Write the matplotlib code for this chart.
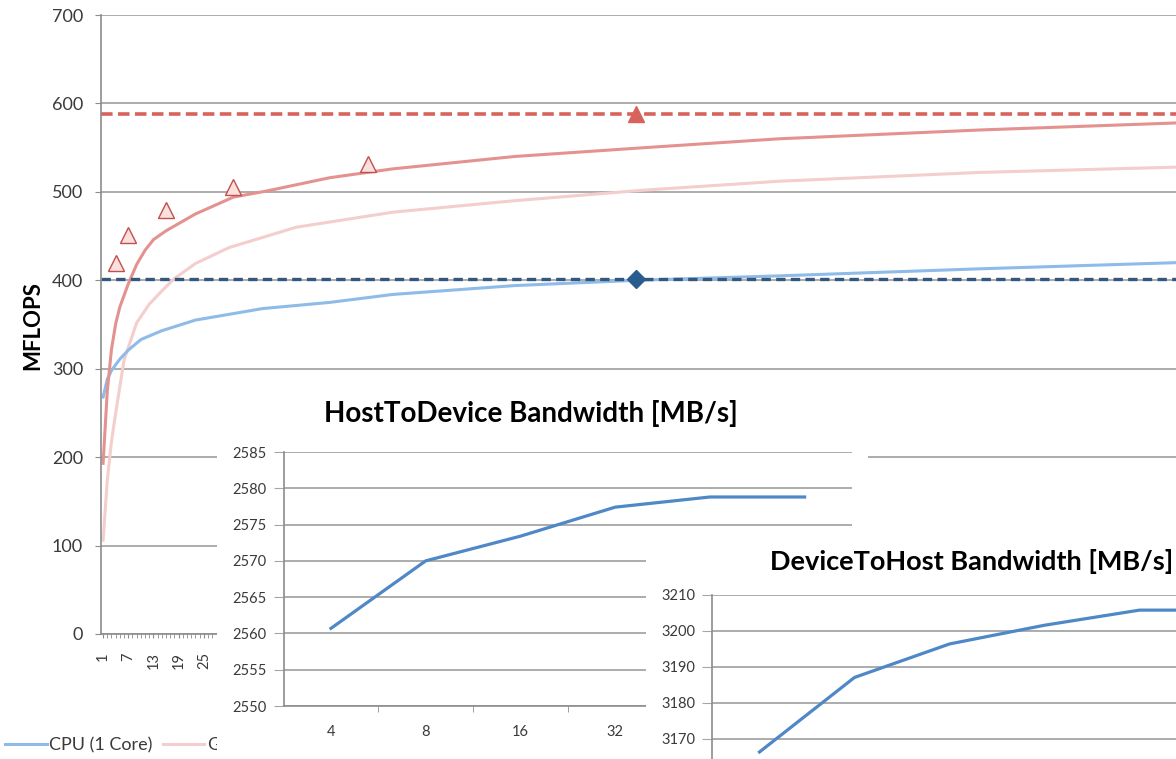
import matplotlib.pyplot as plt
from matplotlib.ticker import FixedLocator

plt.rcParams['font.family'] = ['Lato', 'DejaVu Sans']

# --- Data
# main chart: MFLOPS per category (1..257), curves given at sampled categories
cpu_x = [1, 2, 3, 5, 7, 10, 15, 23, 39, 55, 70, 99, 128, 162, 210, 257]
cpu_y = [268, 288, 298, 311, 321, 333, 343, 355, 368, 375, 384, 394, 400, 405, 413, 420]

gpu_x = [1, 2, 3, 4, 5, 7, 9, 11, 13, 16, 23, 32, 40, 55, 70, 99, 130, 162, 210, 257]
gpu_y = [193, 275, 322, 351, 370, 396, 418, 434, 446, 456, 475, 494, 501, 516, 526, 540, 550, 560, 570, 578]

gpu2_x = [1, 2, 3, 4, 6, 9, 12, 15, 18, 23, 31, 47, 70, 99, 130, 162, 210, 257]
gpu2_y = [106, 174, 218, 250, 310, 352, 373, 388, 402, 419, 437, 460, 477, 490, 502, 512, 522, 528]

tri_x = [4, 7, 16, 32, 64]
tri_y = [419, 451, 479, 505, 531]

peak_cat = 128
gpu_peak = 588
cpu_peak = 402

main_ticks = [1, 7, 13, 19, 25]

# bandwidth insets
sizes = ['4', '8', '16', '32', '64', '128']
h2d = [2560.7, 2570.0, 2573.4, 2577.4, 2578.8, 2578.8]
d2h = [3166.4, 3187.1, 3196.4, 3201.6, 3205.8, 3205.8]

W, H = 1176, 759
GRID = '#A6A6A6'
SPINE = '#8C8C8C'
TXT = '#3A3A3A'


def frac(l, t, r, b):
    # pixel box -> figure fraction
    return [l / W, 1 - b / H, (r - l) / W, (b - t) / H]


fig = plt.figure(figsize=(W / 100, H / 100), dpi=100)

# --- Step 1: main MFLOPS chart
ax = fig.add_axes(frac(101, 15, 1180, 634))
ax.set_xlim(0.5, 257.5)
ax.set_ylim(0, 700)
ax.set_yticks(range(0, 701, 100))
ax.yaxis.grid(True, color=GRID, lw=1.3)
ax.set_axisbelow(True)
for s in ['top', 'right']:
    ax.spines[s].set_visible(False)
for s in ['left', 'bottom']:
    ax.spines[s].set_color(SPINE)
    ax.spines[s].set_linewidth(1.2)

# only the first labels are left uncovered by the inset
ax.xaxis.set_major_locator(FixedLocator(main_ticks))
ax.xaxis.set_minor_locator(FixedLocator(list(range(1, 28))))
ax.set_xticklabels([str(t) for t in main_ticks], rotation=90, fontsize=10.5, color=TXT)
ax.tick_params(axis='x', which='both', length=3, color=SPINE, pad=10)
ax.tick_params(axis='y', length=4, color=SPINE, pad=9, labelsize=13, labelcolor=TXT)

l_gpu2, = ax.plot(gpu2_x, gpu2_y, color='#F4CDCD', lw=2.2, label='GPU')
l_cpu, = ax.plot(cpu_x, cpu_y, color='#8EBBE8', lw=2.2, label='CPU (1 Core)')
ax.plot(gpu_x, gpu_y, color='#E3928F', lw=2.2)
ax.axhline(gpu_peak, color='#D8635C', lw=2.6, dashes=(3.2, 1.5))
ax.axhline(cpu_peak, color='#34577E', lw=2.4, dashes=(2.8, 1.6))
ax.plot(tri_x, tri_y, ls='none', marker='^', ms=11, mfc='#FBE0DE', mec='#C0504D', mew=1)
ax.plot([peak_cat], [gpu_peak], ls='none', marker='^', ms=12, color='#D8635C')
ax.plot([peak_cat], [cpu_peak], ls='none', marker='D', ms=9, color='#2A5D8F')

fig.text(33 / W, 1 - 325 / H, 'MFLOPS', rotation=90, ha='center', va='center',
         fontsize=16, fontweight='bold', color='black')

ax.legend(handles=[l_cpu, l_gpu2], loc='center left', ncol=2, frameon=False,
          bbox_to_anchor=(5 / W, 1 - 745 / H), bbox_transform=fig.transFigure,
          borderpad=0, borderaxespad=0, handlelength=2.3, handletextpad=0.15,
          columnspacing=0.55, fontsize=13, labelcolor=TXT)


# --- Step 2: inset helper
def white_panel(box):
    p = fig.add_axes(frac(*box))
    p.set_facecolor('white')
    p.set_xticks([])
    p.set_yticks([])
    for s in p.spines.values():
        s.set_visible(False)
    return p


def bandwidth_axes(box, values, ylo, yhi, ystep, shown, first_label):
    a = fig.add_axes(frac(*box))
    a.set_facecolor('white')
    xs = list(range(len(values)))
    a.plot(xs, values, color='#4F88C6', lw=2.3)
    a.set_xlim(-0.5, len(values) - 0.5)
    a.set_ylim(ylo, yhi)
    a.set_yticks(range(first_label, yhi + 1, ystep))
    a.yaxis.grid(True, color=GRID, lw=1.3)
    a.set_axisbelow(True)
    for s in ['top', 'right']:
        a.spines[s].set_visible(False)
    for s in ['left', 'bottom']:
        a.spines[s].set_color(SPINE)
        a.spines[s].set_linewidth(1.2)
    a.set_xticks(xs[:shown])
    a.set_xticklabels(sizes[:shown])
    a.xaxis.set_minor_locator(FixedLocator([i + 0.5 for i in xs[:-1]]))
    a.tick_params(axis='x', which='major', length=0, pad=14, labelsize=10.5, labelcolor=TXT)
    a.tick_params(axis='x', which='minor', length=4, color=SPINE)
    a.tick_params(axis='y', length=7, color=GRID, pad=5, labelsize=10.5, labelcolor=TXT)
    return a


# HostToDevice inset
white_panel((217, 392, 868, 800))
bandwidth_axes((283.6, 452, 852, 706), h2d, 2550, 2585, 5, 4, 2550)
fig.text(531 / W, 1 - 414 / H, 'HostToDevice Bandwidth [MB/s]', ha='center', va='center',
         fontsize=20, fontweight='bold', color='black')

# DeviceToHost inset (cropped by the picture edge)
white_panel((646, 538, 1250, 800))
bandwidth_axes((712, 595, 1282, 775), d2h, 3160, 3210, 10, 0, 3170)
fig.text(972 / W, 1 - 561 / H, 'DeviceToHost Bandwidth [MB/s]', ha='center', va='center',
         fontsize=19.5, fontweight='bold', color='black')

fig.savefig('out.png', dpi=100)
